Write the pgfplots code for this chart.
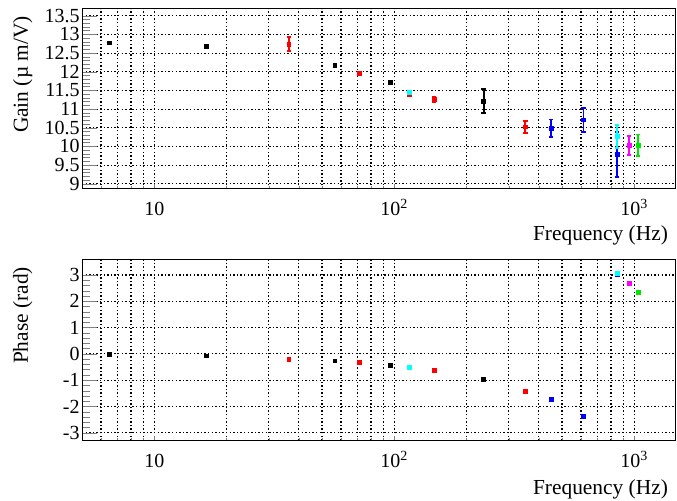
\documentclass[border=0pt]{standalone}
\usepackage{fontspec}
\setmainfont{Liberation Serif}
\usepackage{pgfplots}
\pgfplotsset{compat=1.18}
\definecolor{rBlack}{RGB}{0,0,0}
\definecolor{rRed}{RGB}{255,0,0}
\definecolor{rBlue}{RGB}{0,0,255}
\definecolor{rCyan}{RGB}{0,255,255}
\definecolor{rMag}{RGB}{255,0,255}
\definecolor{rGreen}{RGB}{0,230,0}

\pgfplotstableread{
x y e
6.48 12.77 0.01
16.5 12.68 0.01
56.6 12.16 0.01
96.2 11.71 0.01
235.6 11.215 0.33
}\gainblack
\pgfplotstableread{
x y e
36.4 12.74 0.18
71.5 11.95 0.04
116 11.40 0.03
146.8 11.26 0.06
351.6 10.52 0.17
}\gainred
\pgfplotstableread{
x y e
450.6 10.49 0.23
614.7 10.71 0.32
849.5 9.79 0.60
}\gainblue
\pgfplotstableread{
x y e
116 11.44 0.02
849.5 10.26 0.31
}\gaincyan
\pgfplotstableread{
x y e
950.7 10.03 0.25
}\gainmag
\pgfplotstableread{
x y e
1039 10.03 0.29
}\gaingreen

\pgfplotstableread{
x y
6.48 -0.03
16.5 -0.08
56.6 -0.27
96.2 -0.44
235.6 -0.97
}\phblack
\pgfplotstableread{
x y
36.4 -0.20
71.5 -0.32
116 -0.53
146.8 -0.63
351.6 -1.42
}\phred
\pgfplotstableread{
x y
450.6 -1.73
614.7 -2.38
849.5 3.02
}\phblue
\pgfplotstableread{
x y
116 -0.51
849.5 3.05
}\phcyan
\pgfplotstableread{
x y
950.7 2.67
}\phmag
\pgfplotstableread{
x y
1039 2.35
}\phgreen

\begin{document}
\begin{tikzpicture}
\path[use as bounding box] (0,0) rectangle (338.5pt,250.5pt);
\begin{semilogxaxis}[at={(41pt,156pt)}, anchor=south west,
    scale only axis, width=296.5pt, height=90pt,
    xmin=5, xmax=1478,
    tick pos=left, tick align=inside,
    xtick={10,100,1000},
    xticklabels={10,10\textsuperscript{2},10\textsuperscript{3}},
    minor xtick={6,7,8,9,20,30,40,50,60,70,80,90,200,300,400,500,600,700,800,900},
    xmajorgrids, xminorgrids, ymajorgrids,
    grid style={black, line width=0.55pt, dash pattern=on 0.7pt off 1.1pt},
    major tick length=7.5pt, minor tick length=3.8pt,
    xtick style={/pgfplots/major tick length=2.5pt, /pgfplots/minor tick length=1.3pt},
    axis line style={line width=0.5pt},
    minor y tick num=4,
    tick label style={font=\fontsize{10}{12}\selectfont},
    xlabel style={font=\fontsize{10.7}{12}\selectfont, at={(axis description cs:1,0)}, anchor=base east, yshift=-25.75pt},
    ylabel style={font=\fontsize{10.7}{12}\selectfont, at={(axis description cs:-0.0911,1)}, rotate=0, anchor=base east},
    yticklabel style={anchor=east, inner sep=0pt, xshift=-1pt},
    xticklabel style={anchor=base, inner sep=0pt, yshift=-13.5pt},
    xlabel={Frequency (Hz)},
    ymin=8.86, ymax=13.68, ytick={9,9.5,...,13.5},
    yticklabels={9,9.5,10,10.5,11,11.5,12,12.5,13,13.5},
    ylabel={Gain (µ m/V)},
    error bars/y dir=both, error bars/y explicit,
    error bars/error bar style={line width=0.9pt},
    error bars/error mark options={rotate=90, mark size=1.1pt, line width=0.9pt},
  ]
\addplot[only marks, mark=square*, mark size=0.95pt, color=rBlack] table[x=x,y=y,y error=e] {\gainblack};
\addplot[only marks, mark=square*, mark size=0.95pt, color=rRed] table[x=x,y=y,y error=e] {\gainred};
\addplot[only marks, mark=square*, mark size=0.95pt, color=rBlue] table[x=x,y=y,y error=e] {\gainblue};
\addplot[only marks, mark=square*, mark size=0.95pt, color=rCyan] table[x=x,y=y,y error=e] {\gaincyan};
\addplot[only marks, mark=square*, mark size=0.95pt, color=rMag] table[x=x,y=y,y error=e] {\gainmag};
\addplot[only marks, mark=square*, mark size=0.95pt, color=rGreen] table[x=x,y=y,y error=e] {\gaingreen};
\draw[line width=0.8pt] (rel axis cs:0,1) -- (rel axis cs:0,0) -- (rel axis cs:1,0);
\end{semilogxaxis}
\begin{semilogxaxis}[at={(41pt,30.15pt)}, anchor=south west,
    scale only axis, width=296.5pt, height=90.35pt,
    xmin=5, xmax=1478,
    tick pos=left, tick align=inside,
    xtick={10,100,1000},
    xticklabels={10,10\textsuperscript{2},10\textsuperscript{3}},
    minor xtick={6,7,8,9,20,30,40,50,60,70,80,90,200,300,400,500,600,700,800,900},
    xmajorgrids, xminorgrids, ymajorgrids,
    grid style={black, line width=0.55pt, dash pattern=on 0.7pt off 1.1pt},
    major tick length=7.5pt, minor tick length=3.8pt,
    xtick style={/pgfplots/major tick length=2.5pt, /pgfplots/minor tick length=1.3pt},
    axis line style={line width=0.5pt},
    minor y tick num=4,
    tick label style={font=\fontsize{10}{12}\selectfont},
    xlabel style={font=\fontsize{10.7}{12}\selectfont, at={(axis description cs:1,0)}, anchor=base east, yshift=-27pt},
    ylabel style={font=\fontsize{10.7}{12}\selectfont, at={(axis description cs:-0.0911,1)}, rotate=0, anchor=base east},
    yticklabel style={anchor=east, inner sep=0pt, xshift=-1pt},
    xticklabel style={anchor=base, inner sep=0pt, yshift=-13.5pt},
    xlabel={Frequency (Hz)},
    ymin=-3.30, ymax=3.57, ytick={-3,-2,...,3},
    yticklabels={-3,-2,-1,0,1,2,3},
    ylabel={Phase (rad)},
  ]
\addplot[only marks, mark=square*, mark size=0.95pt, color=rBlack] table[x=x,y=y] {\phblack};
\addplot[only marks, mark=square*, mark size=0.95pt, color=rRed] table[x=x,y=y] {\phred};
\addplot[only marks, mark=square*, mark size=0.95pt, color=rBlue] table[x=x,y=y] {\phblue};
\addplot[only marks, mark=square*, mark size=0.95pt, color=rCyan] table[x=x,y=y] {\phcyan};
\addplot[only marks, mark=square*, mark size=0.95pt, color=rMag] table[x=x,y=y] {\phmag};
\addplot[only marks, mark=square*, mark size=0.95pt, color=rGreen] table[x=x,y=y] {\phgreen};
\draw[line width=0.8pt] (rel axis cs:0,1) -- (rel axis cs:0,0) -- (rel axis cs:1,0);
\end{semilogxaxis}
\end{tikzpicture}
\end{document}
